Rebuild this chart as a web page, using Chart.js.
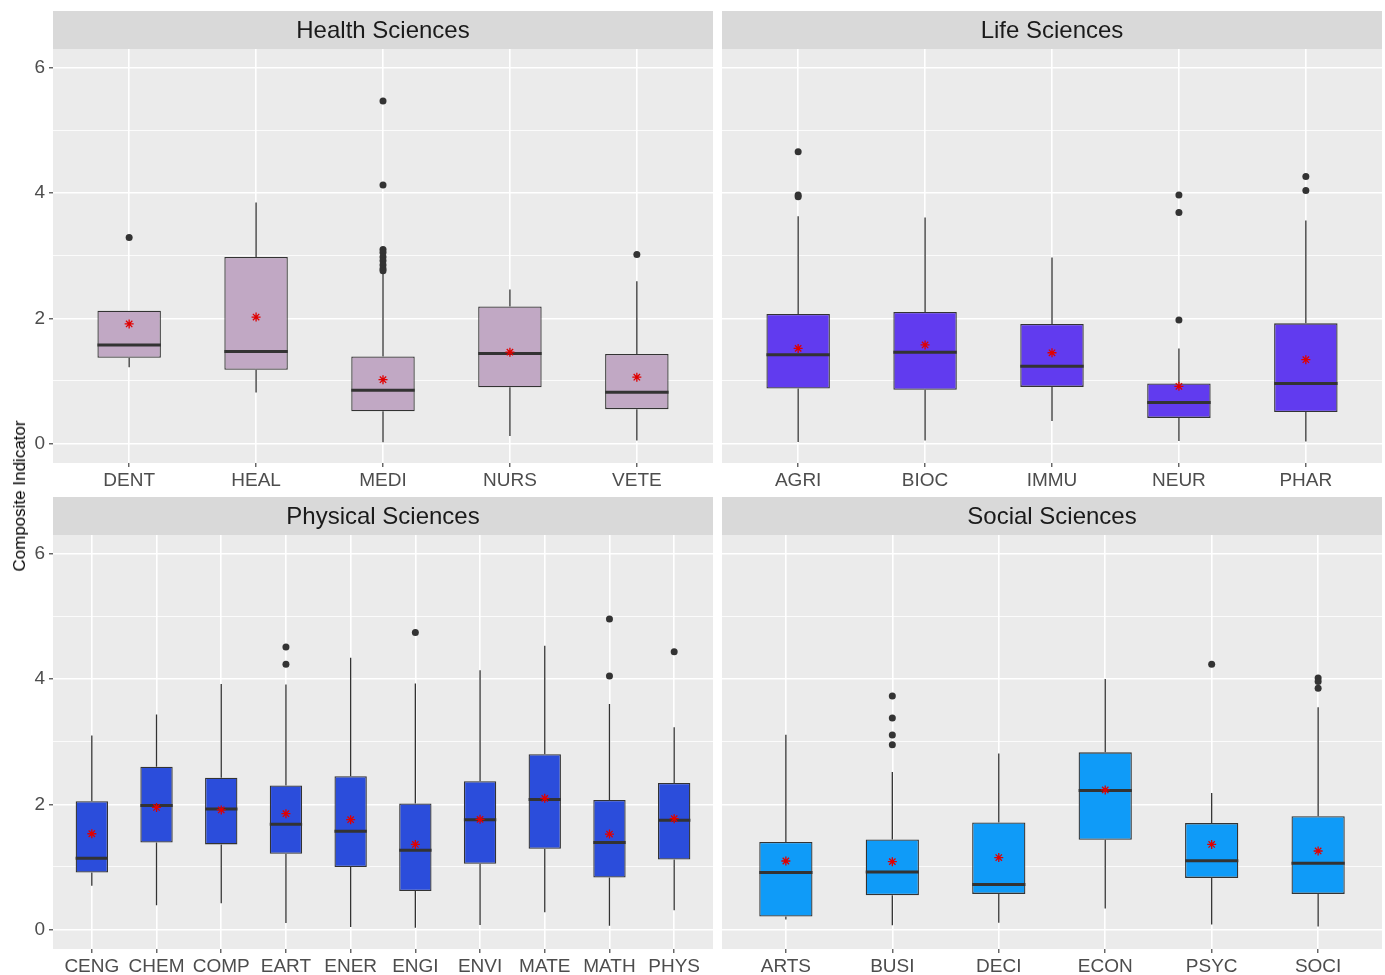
<!DOCTYPE html>
<html>
<head>
<meta charset="utf-8">
<script src="https://cdn.jsdelivr.net/npm/chart.js@4/dist/chart.umd.min.js"></script>
<style>
  html, body { margin:0; padding:0; background:#ffffff; }
  body { width:1385px; height:975px; position:relative; overflow:hidden; font-family:"Liberation Sans", Arial, sans-serif; }
  canvas { position:absolute; }
  #ytitle { position:absolute; left:20px; top:496px; transform:translate(-50%,-50%) rotate(-90deg); font-size:17px; color:#000; white-space:nowrap; }
</style>
</head>
<body>
<canvas id="c1" width="718" height="490" style="left:0;top:0"></canvas>
<canvas id="c2" width="667" height="490" style="left:718px;top:0"></canvas>
<canvas id="c3" width="718" height="485" style="left:0;top:490px"></canvas>
<canvas id="c4" width="667" height="485" style="left:718px;top:490px"></canvas>
<div id="ytitle">Composite Indicator</div>
<script>
// ---------- Data ----------
const yTicks = [0, 1, 2, 3, 4, 5, 6];
const yTickLabels = ['0', '', '2', '', '4', '', '6'];

const healthCats = ['DENT', 'HEAL', 'MEDI', 'NURS', 'VETE'];
const healthLow  = [1.22, 0.815, 0.02, 0.12, 0.05];
const healthQ1   = [1.37, 1.18, 0.515, 0.90, 0.55];
const healthMed  = [1.575, 1.47, 0.85, 1.44, 0.82];
const healthQ3   = [2.12, 2.98, 1.39, 2.19, 1.43];
const healthHigh = [2.12, 3.85, 2.72, 2.46, 2.59];
const healthMean = [1.91, 2.02, 1.02, 1.46, 1.06];
const healthOut  = [[3.29], [], [5.47, 4.13, 3.10, 3.05, 2.98, 2.92, 2.85, 2.79, 2.76], [], [3.02]];

const lifeCats = ['AGRI', 'BIOC', 'IMMU', 'NEUR', 'PHAR'];
const lifeLow  = [0.025, 0.05, 0.36, 0.04, 0.035];
const lifeQ1   = [0.88, 0.86, 0.905, 0.41, 0.505];
const lifeMed  = [1.42, 1.46, 1.235, 0.655, 0.96];
const lifeQ3   = [2.07, 2.10, 1.91, 0.96, 1.92];
const lifeHigh = [3.63, 3.61, 2.97, 1.52, 3.56];
const lifeMean = [1.52, 1.575, 1.45, 0.915, 1.34];
const lifeOut  = [[4.66, 3.97, 3.94], [], [], [1.975, 3.69, 3.97], [4.04, 4.265]];

const physCats = ['CENG', 'CHEM', 'COMP', 'EART', 'ENER', 'ENGI', 'ENVI', 'MATE', 'MATH', 'PHYS'];
const physLow  = [0.70, 0.39, 0.42, 0.105, 0.04, 0.03, 0.075, 0.275, 0.06, 0.31];
const physQ1   = [0.91, 1.39, 1.36, 1.21, 1.00, 0.615, 1.05, 1.29, 0.83, 1.12];
const physMed  = [1.14, 1.98, 1.925, 1.68, 1.57, 1.265, 1.755, 2.075, 1.39, 1.745];
const physQ3   = [2.05, 2.60, 2.425, 2.30, 2.45, 2.015, 2.37, 2.80, 2.07, 2.34];
const physHigh = [3.10, 3.435, 3.92, 3.915, 4.34, 3.93, 4.14, 4.53, 3.60, 3.23];
const physMean = [1.53, 1.95, 1.91, 1.85, 1.755, 1.36, 1.76, 2.095, 1.525, 1.77];
const physOut  = [[], [], [], [4.51, 4.235], [], [4.745], [], [], [4.05, 4.96], [4.435]];

const socCats = ['ARTS', 'BUSI', 'DECI', 'ECON', 'PSYC', 'SOCI'];
const socLow  = [0.16, 0.07, 0.11, 0.335, 0.08, 0.05];
const socQ1   = [0.21, 0.55, 0.57, 1.435, 0.825, 0.57];
const socMed  = [0.91, 0.92, 0.72, 2.22, 1.10, 1.06];
const socQ3   = [1.40, 1.44, 1.71, 2.83, 1.70, 1.81];
const socHigh = [3.11, 2.515, 2.81, 4.00, 2.18, 3.55];
const socMean = [1.095, 1.085, 1.15, 2.23, 1.36, 1.255];
const socOut  = [[], [2.95, 3.105, 3.38, 3.73], [], [], [4.235], [4.015, 3.96, 3.855]];

// ---------- Rendering ----------
Chart.defaults.font.family = '"Liberation Sans", Arial, Helvetica, sans-serif';

const panelPlugin = {
  id: 'panelBg',
  beforeDraw(chart) {
    const { ctx, chartArea: a } = chart;
    ctx.save();
    ctx.fillStyle = '#EBEBEB';
    ctx.fillRect(a.left, a.top, a.right - a.left, a.bottom - a.top);
    const tb = chart.titleBlock;
    if (tb) {
      ctx.fillStyle = '#D9D9D9';
      ctx.fillRect(a.left, tb.top, a.right - a.left, a.top - tb.top);
    }
    ctx.restore();
  }
};

const boxPlugin = {
  id: 'boxExtras',
  afterDatasetDraw(chart, args, opts) {
    if (args.meta.type !== 'bar') return;
    const { ctx } = chart;
    const y = chart.scales.y;
    ctx.save();
    ctx.strokeStyle = '#333333';
    ctx.lineCap = 'butt';
    args.meta.data.forEach((bar, i) => {
      const cx = bar.x, w = bar.width;
      ctx.lineWidth = 1.3;
      ctx.beginPath();
      ctx.moveTo(cx, y.getPixelForValue(opts.q3[i]));
      ctx.lineTo(cx, y.getPixelForValue(opts.high[i]));
      ctx.moveTo(cx, y.getPixelForValue(opts.q1[i]));
      ctx.lineTo(cx, y.getPixelForValue(opts.low[i]));
      ctx.stroke();
      ctx.lineWidth = 3;
      ctx.beginPath();
      const my = y.getPixelForValue(opts.med[i]);
      ctx.moveTo(cx - w / 2, my);
      ctx.lineTo(cx + w / 2, my);
      ctx.stroke();
    });
    ctx.restore();
  }
};

function makePanel(id, title, cats, low, q1, med, q3, high, mean, outs, fill, cfg) {
  const boxes = cats.map((c, i) => ({ x: i + 1, y: [q1[i], q3[i]] }));
  const outliers = [];
  outs.forEach((arr, i) => arr.forEach(v => outliers.push({ x: i + 1, y: v })));
  const means = cats.map((c, i) => ({ x: i + 1, y: mean[i] }));

  new Chart(document.getElementById(id), {
    type: 'bar',
    data: {
      datasets: [
        { type: 'line', data: means, showLine: false, pointStyle: 'star', pointRadius: 4.5,
          pointBorderColor: '#E00000', pointBackgroundColor: '#E00000', pointBorderWidth: 1.3, order: 0 },
        { type: 'line', data: outliers, showLine: false, pointStyle: 'circle', pointRadius: 3.5,
          pointBackgroundColor: '#333333', pointBorderColor: '#333333', pointBorderWidth: 0, order: 1 },
        { type: 'bar', data: boxes, backgroundColor: fill, borderColor: '#333333', borderWidth: 1.3,
          borderSkipped: false, barPercentage: 0.5, categoryPercentage: 1, order: 2 }
      ]
    },
    options: {
      responsive: false,
      animation: false,
      devicePixelRatio: 1,
      events: [],
      layout: { autoPadding: false, padding: { top: cfg.padTop, right: cfg.padRight, left: 0, bottom: 0 } },
      plugins: {
        legend: { display: false },
        tooltip: { enabled: false },
        title: { display: true, text: title, fullSize: false, color: '#1A1A1A',
                 font: { size: 24, weight: 'normal', lineHeight: 1.2 }, padding: { top: 6.4, bottom: 2.8 } },
        boxExtras: { low, q1, med, q3, high }
      },
      scales: {
        x: {
          type: 'linear', offset: false, min: 0.4, max: cats.length + 0.6,
          afterBuildTicks: s => { s.ticks = cats.map((c, i) => ({ value: i + 1 })); },
          afterFit: s => { s.height = cfg.xHeight; },
          ticks: { autoSkip: false, maxRotation: 0, minRotation: 0, padding: 2, color: '#4D4D4D',
                   font: { size: 19 }, callback: (v) => cats[Math.round(v) - 1] },
          grid: { offset: false, color: '#FFFFFF', lineWidth: 1.6, drawTicks: true, tickLength: 4,
                  tickColor: '#333333', tickWidth: 1.1 },
          border: { display: false }
        },
        y: {
          type: 'linear', min: -0.31, max: 6.30,
          afterBuildTicks: s => { s.ticks = yTicks.map(v => ({ value: v })); },
          afterFit: s => { s.width = cfg.yWidth; },
          ticks: { display: cfg.showY, padding: 4, color: '#4D4D4D', font: { size: 19 },
                   callback: (v, i) => yTickLabels[i] },
          grid: { color: '#FFFFFF',
                  lineWidth: c => (c.tick && c.tick.value % 2 === 0) ? 1.6 : 0.8,
                  drawTicks: cfg.showY, tickLength: 4,
                  tickColor: c => (c.tick && c.tick.value % 2 === 0) ? '#333333' : 'rgba(0,0,0,0)',
                  tickWidth: 1.1 },
          border: { display: false }
        }
      }
    },
    plugins: [panelPlugin, boxPlugin]
  });
}

makePanel('c1', 'Health Sciences', healthCats, healthLow, healthQ1, healthMed, healthQ3, healthHigh, healthMean, healthOut,
  '#C1A8C4', { padTop: 11, padRight: 5, xHeight: 27, yWidth: 53, showY: true });
makePanel('c2', 'Life Sciences', lifeCats, lifeLow, lifeQ1, lifeMed, lifeQ3, lifeHigh, lifeMean, lifeOut,
  '#613BEF', { padTop: 11, padRight: 3, xHeight: 27, yWidth: 4, showY: false });
makePanel('c3', 'Physical Sciences', physCats, physLow, physQ1, physMed, physQ3, physHigh, physMean, physOut,
  '#2B4DDB', { padTop: 7, padRight: 5, xHeight: 26, yWidth: 53, showY: true });
makePanel('c4', 'Social Sciences', socCats, socLow, socQ1, socMed, socQ3, socHigh, socMean, socOut,
  '#0F9BF8', { padTop: 7, padRight: 3, xHeight: 26, yWidth: 4, showY: false });
</script>
</body>
</html>
